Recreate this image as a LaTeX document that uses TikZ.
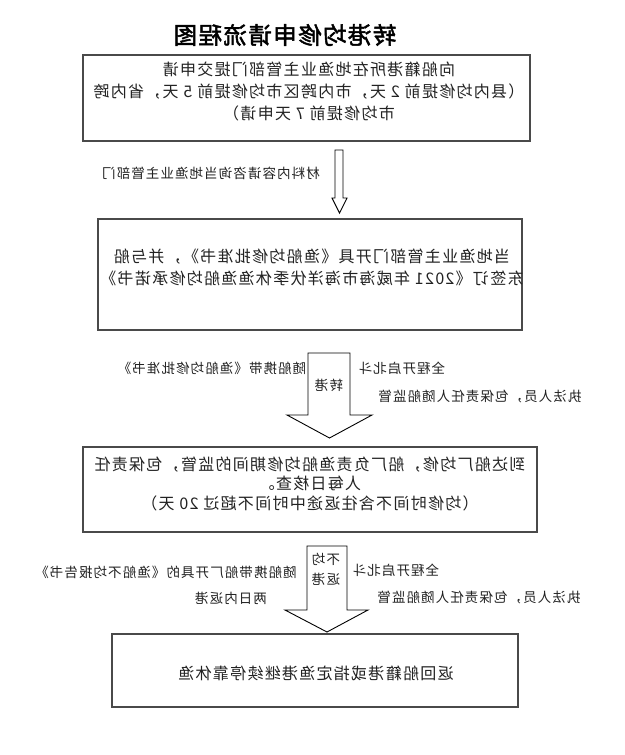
\documentclass[tikz,border=0pt]{standalone}
\usepackage{fontspec}
\usepackage{graphicx}
\setmainfont{Noto Sans CJK SC}
\newfontfamily\boxfont[LetterSpace=8]{Noto Sans CJK SC}
\newfontfamily\ttlfont[LetterSpace=6,FakeBold=2]{Noto Sans CJK SC}
\newcommand{\mir}[1]{\reflectbox{#1}}
\definecolor{boxgray}{HTML}{4A4A4A}
\definecolor{ink}{HTML}{222222}
\begin{document}
\begin{tikzpicture}[x=1pt,y=-1pt,
  box/.style={draw=boxgray, line width=1.2pt, inner sep=0pt},
  txt/.style={inner sep=0pt, text=ink, font=\fontsize{16}{22}\boxfont},
  lbl/.style={inner sep=0pt, text=ink, font=\fontsize{13.5}{16}\boxfont},
  blk/.style={draw=black, line width=0.9pt, fill=white, line join=miter}]
\useasboundingbox (0,0) rectangle (624,755);
\fill[white] (0,0) rectangle (624,755);
% title
\node[inner sep=0pt, font=\fontsize{23.5}{26}\ttlfont] (title) at (285,35) {\mir{转港均修申请流程图}};
% box 1
\node[box, minimum width=447pt, minimum height=86pt] (b1) at (306.5,98) {};
\node[txt] (t1) at (309,93) {\mir{\begin{tabular}{@{}c@{}}向船籍港所在地渔业主管部门提交申请\\（县内均修提前 2 天，市内跨区市均修提前 5 天，省内跨\\市均修提前 7 天申请）\end{tabular}}};
% arrow 1
\draw[blk] (335,150) -- (343,150) -- (343,198) -- (347,198) -- (339.5,213) -- (332,198) -- (335,198) -- cycle;
\node[lbl] (l1) at (211,173) {\mir{材料内容请咨询当地渔业主管部门}};
% box 2
\node[box, minimum width=424pt, minimum height=111pt] (b2) at (310,274.5) {};
\node[txt] (t2) at (312,269) {\mir{\begin{tabular}{@{}c@{}}当地渔业主管部门开具《渔船均修批准书》，并与船\\东签订《2021 年威海市海洋伏季休渔渔船均修承诺书》\end{tabular}}};
% arrow 2
\draw[blk] (308,353) -- (350,353) -- (350,415) -- (372,415) -- (329.5,438) -- (287,415) -- (308,415) -- cycle;
\node[lbl] (a2t) at (329,385) {\mir{转港}};
\node[lbl] (l2a) at (212,368) {\mir{随船携带《渔船均修批准书》}};
\node[lbl] (l2b) at (402,368) {\mir{全程开启北斗}};
\node[lbl] (l2c) at (480,397) {\mir{执法人员，包保责任人随船监管}};
% box 3
\node[box, minimum width=454pt, minimum height=85pt] (b3) at (310,489.5) {};
\node[txt, font=\fontsize{16}{19.5}\boxfont] (t3) at (310,486) {\mir{\begin{tabular}{@{}c@{}}到达船厂均修，船厂负责渔船均修期间的监管，包保责任\\人每日核查。\\（均修时间不含往返途中时间不超过 20 天）\end{tabular}}};
% arrow 3
\draw[blk] (307,546) -- (347,546) -- (347,610) -- (368,610) -- (327,632) -- (285,610) -- (307,610) -- cycle;
\node[lbl, font=\fontsize{13.5}{20}\boxfont] (a3t) at (326,570) {\mir{\begin{tabular}{@{}c@{}}不均\\返港\end{tabular}}};
\node[lbl] (l3a) at (166,572) {\mir{随船携带船厂开具的《渔船不均报告书》}};
\node[lbl] (l3b) at (231,598) {\mir{两日内返港}};
\node[lbl] (l3c) at (396,570) {\mir{全程开启北斗}};
\node[lbl] (l3d) at (479,598) {\mir{执法人员，包保责任人随船监管}};
% box 4
\node[box, minimum width=406pt, minimum height=73pt] (b4) at (315,670.5) {};
\node[txt] (t4) at (316,673) {\mir{返回船籍港或指定渔港继续停靠休渔}};
\end{tikzpicture}
\end{document}
